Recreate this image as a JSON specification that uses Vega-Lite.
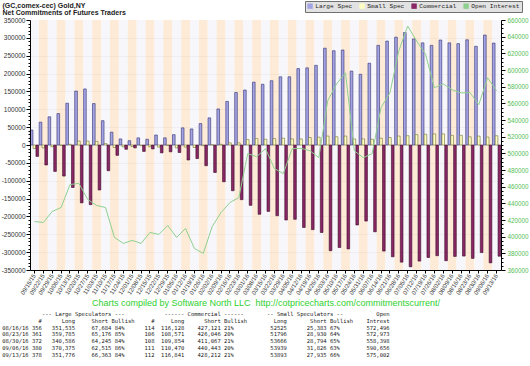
{
  "$schema": "https://vega.github.io/schema/vega-lite/v6.json",
  "width": 471,
  "height": 250,
  "autosize": {"type": "none"},
  "padding": {"left": 30, "top": 20, "right": 29, "bottom": 96},
  "background": "white",
  "config": {"view": {"stroke": null}},
  "title": {
    "text": [
      "\u200b\u00a0\u00a0\u00a0\u00a0\u00a0\u00a0\u00a0\u00a0\u00a0\u00a0\u00a0\u00a0---\u00a0Large\u00a0Speculators\u00a0---\u00a0\u00a0\u00a0\u00a0\u00a0\u00a0\u00a0\u00a0\u00a0\u00a0\u00a0\u00a0------\u00a0Commercial\u00a0------\u00a0\u00a0\u00a0\u00a0\u00a0\u00a0\u00a0--\u00a0Small\u00a0Speculators\u00a0--\u00a0\u00a0\u00a0\u00a0\u00a0\u00a0\u00a0\u00a0\u00a0\u00a0Open",
      "\u200b\u00a0\u00a0\u00a0\u00a0\u00a0\u00a0\u00a0\u00a0\u00a0\u00a0\u00a0#\u00a0\u00a0\u00a0\u00a0\u00a0\u00a0Long\u00a0\u00a0\u00a0\u00a0\u00a0Short\u00a0Bullish\u00a0\u00a0\u00a0\u00a0\u00a0#\u00a0\u00a0\u00a0\u00a0\u00a0Long\u00a0\u00a0\u00a0\u00a0\u00a0\u00a0Short\u00a0Bullish\u00a0\u00a0\u00a0\u00a0\u00a0\u00a0\u00a0\u00a0Long\u00a0\u00a0\u00a0\u00a0\u00a0\u00a0\u00a0Short\u00a0Bullish\u00a0\u00a0\u00a0\u00a0Intrest",
      "08/16/16\u00a0356\u00a0\u00a0\u00a0351,535\u00a0\u00a0\u00a0\u00a0\u00a067,684\u00a084%\u00a0\u00a0\u00a0\u00a0\u00a0\u00a0114\u00a0\u00a0116,128\u00a0\u00a0\u00a0\u00a0427,121\u00a021%\u00a0\u00a0\u00a0\u00a0\u00a0\u00a0\u00a0\u00a0\u00a0\u00a0\u00a052525\u00a0\u00a0\u00a0\u00a0\u00a0\u00a025,383\u00a067%\u00a0\u00a0\u00a0\u00a0\u00a0\u00a0\u00a0\u00a0572,496",
      "08/23/16\u00a0361\u00a0\u00a0\u00a0359,785\u00a0\u00a0\u00a0\u00a0\u00a065,176\u00a085%\u00a0\u00a0\u00a0\u00a0\u00a0\u00a0106\u00a0\u00a0108,571\u00a0\u00a0\u00a0\u00a0426,046\u00a020%\u00a0\u00a0\u00a0\u00a0\u00a0\u00a0\u00a0\u00a0\u00a0\u00a0\u00a051796\u00a0\u00a0\u00a0\u00a0\u00a0\u00a028,930\u00a064%\u00a0\u00a0\u00a0\u00a0\u00a0\u00a0\u00a0\u00a0572,973",
      "08/30/16\u00a0372\u00a0\u00a0\u00a0340,586\u00a0\u00a0\u00a0\u00a0\u00a064,245\u00a084%\u00a0\u00a0\u00a0\u00a0\u00a0\u00a0108\u00a0\u00a0109,854\u00a0\u00a0\u00a0\u00a0411,067\u00a021%\u00a0\u00a0\u00a0\u00a0\u00a0\u00a0\u00a0\u00a0\u00a0\u00a0\u00a053666\u00a0\u00a0\u00a0\u00a0\u00a0\u00a028,794\u00a065%\u00a0\u00a0\u00a0\u00a0\u00a0\u00a0\u00a0\u00a0558,398",
      "09/06/16\u00a0380\u00a0\u00a0\u00a0370,375\u00a0\u00a0\u00a0\u00a0\u00a062,515\u00a086%\u00a0\u00a0\u00a0\u00a0\u00a0\u00a0111\u00a0\u00a0110,470\u00a0\u00a0\u00a0\u00a0440,443\u00a020%\u00a0\u00a0\u00a0\u00a0\u00a0\u00a0\u00a0\u00a0\u00a0\u00a0\u00a053939\u00a0\u00a0\u00a0\u00a0\u00a0\u00a031,826\u00a063%\u00a0\u00a0\u00a0\u00a0\u00a0\u00a0\u00a0\u00a0590,656",
      "09/13/16\u00a0378\u00a0\u00a0\u00a0351,776\u00a0\u00a0\u00a0\u00a0\u00a066,363\u00a084%\u00a0\u00a0\u00a0\u00a0\u00a0\u00a0112\u00a0\u00a0116,841\u00a0\u00a0\u00a0\u00a0428,212\u00a021%\u00a0\u00a0\u00a0\u00a0\u00a0\u00a0\u00a0\u00a0\u00a0\u00a0\u00a053893\u00a0\u00a0\u00a0\u00a0\u00a0\u00a027,935\u00a066%\u00a0\u00a0\u00a0\u00a0\u00a0\u00a0\u00a0\u00a0575,002"
    ],
    "orient": "bottom",
    "anchor": "start",
    "frame": "bounds",
    "baseline": "top",
    "font": "DejaVu Sans Mono",
    "fontSize": 5.5,
    "fontWeight": "normal",
    "color": "#222222",
    "lineHeight": 6.8,
    "offset": 5,
    "dx": 1
  },
  "data": {
    "values": [
      {"date":"09/15/15","Large Spec":42000,"Small Spec":-10000,"Commercial":-32000,"Open Interest":418200},
      {"date":"09/22/15","Large Spec":64000,"Small Spec":-8000,"Commercial":-56000,"Open Interest":417000},
      {"date":"09/29/15","Large Spec":79000,"Small Spec":-5000,"Commercial":-74000,"Open Interest":430200},
      {"date":"10/06/15","Large Spec":88000,"Small Spec":-1000,"Commercial":-87000,"Open Interest":435000},
      {"date":"10/13/15","Large Spec":117000,"Small Spec":2000,"Commercial":-119000,"Open Interest":462500},
      {"date":"10/20/15","Large Spec":151000,"Small Spec":11000,"Commercial":-162000,"Open Interest":464000},
      {"date":"10/27/15","Large Spec":157000,"Small Spec":11000,"Commercial":-167000,"Open Interest":444600},
      {"date":"11/03/15","Large Spec":116000,"Small Spec":10000,"Commercial":-126000,"Open Interest":437400},
      {"date":"11/10/15","Large Spec":68000,"Small Spec":4000,"Commercial":-72000,"Open Interest":435000},
      {"date":"11/17/15","Large Spec":36000,"Small Spec":-7000,"Commercial":-29000,"Open Interest":399100},
      {"date":"11/24/15","Large Spec":17000,"Small Spec":-5000,"Commercial":-12000,"Open Interest":391900},
      {"date":"12/01/15","Large Spec":12000,"Small Spec":-4000,"Commercial":-8000,"Open Interest":395500},
      {"date":"12/08/15","Large Spec":20000,"Small Spec":-2000,"Commercial":-18000,"Open Interest":391900},
      {"date":"12/15/15","Large Spec":16000,"Small Spec":-5000,"Commercial":-11000,"Open Interest":405100},
      {"date":"12/22/15","Large Spec":28000,"Small Spec":-6000,"Commercial":-22000,"Open Interest":402700},
      {"date":"12/29/15","Large Spec":20000,"Small Spec":-1000,"Commercial":-19000,"Open Interest":413400},
      {"date":"01/05/16","Large Spec":29000,"Small Spec":-8000,"Commercial":-21000,"Open Interest":399100},
      {"date":"01/12/16","Large Spec":48000,"Small Spec":-6000,"Commercial":-42000,"Open Interest":409900},
      {"date":"01/19/16","Large Spec":45000,"Small Spec":-7000,"Commercial":-38000,"Open Interest":385900},
      {"date":"01/26/16","Large Spec":60000,"Small Spec":-2000,"Commercial":-58000,"Open Interest":379900},
      {"date":"02/02/16","Large Spec":76000,"Small Spec":1000,"Commercial":-77000,"Open Interest":412200},
      {"date":"02/09/16","Large Spec":101000,"Small Spec":2000,"Commercial":-103000,"Open Interest":429000},
      {"date":"02/16/16","Large Spec":122000,"Small Spec":6000,"Commercial":-128000,"Open Interest":441000},
      {"date":"02/23/16","Large Spec":147000,"Small Spec":6000,"Commercial":-153000,"Open Interest":447000},
      {"date":"03/01/16","Large Spec":154000,"Small Spec":15000,"Commercial":-169000,"Open Interest":499600},
      {"date":"03/08/16","Large Spec":176000,"Small Spec":18000,"Commercial":-194000,"Open Interest":496000},
      {"date":"03/15/16","Large Spec":170000,"Small Spec":16000,"Commercial":-186000,"Open Interest":505600},
      {"date":"03/22/16","Large Spec":180000,"Small Spec":18000,"Commercial":-198000,"Open Interest":481700},
      {"date":"03/29/16","Large Spec":191000,"Small Spec":19000,"Commercial":-210000,"Open Interest":475700},
      {"date":"04/05/16","Large Spec":191000,"Small Spec":17000,"Commercial":-208000,"Open Interest":505600},
      {"date":"04/12/16","Large Spec":214000,"Small Spec":17000,"Commercial":-231000,"Open Interest":506000},
      {"date":"04/19/16","Large Spec":216000,"Small Spec":21000,"Commercial":-237000,"Open Interest":503200},
      {"date":"04/26/16","Large Spec":223000,"Small Spec":22000,"Commercial":-245000,"Open Interest":494800},
      {"date":"05/03/16","Large Spec":271000,"Small Spec":25000,"Commercial":-296000,"Open Interest":563100},
      {"date":"05/10/16","Large Spec":264000,"Small Spec":23000,"Commercial":-287000,"Open Interest":583400},
      {"date":"05/17/16","Large Spec":266000,"Small Spec":25000,"Commercial":-291000,"Open Interest":596600},
      {"date":"05/24/16","Large Spec":207000,"Small Spec":17000,"Commercial":-224000,"Open Interest":503000},
      {"date":"05/31/16","Large Spec":198000,"Small Spec":17000,"Commercial":-213000,"Open Interest":494800},
      {"date":"06/07/16","Large Spec":229000,"Small Spec":16000,"Commercial":-243000,"Open Interest":499600},
      {"date":"06/14/16","Large Spec":279000,"Small Spec":19000,"Commercial":-297000,"Open Interest":554700},
      {"date":"06/21/16","Large Spec":291000,"Small Spec":21000,"Commercial":-313000,"Open Interest":572600},
      {"date":"06/28/16","Large Spec":302000,"Small Spec":25000,"Commercial":-328000,"Open Interest":622900},
      {"date":"07/05/16","Large Spec":315000,"Small Spec":26000,"Commercial":-341000,"Open Interest":652800},
      {"date":"07/12/16","Large Spec":297000,"Small Spec":29000,"Commercial":-325000,"Open Interest":634900},
      {"date":"07/19/16","Large Spec":286000,"Small Spec":30000,"Commercial":-315000,"Open Interest":619300},
      {"date":"07/26/16","Large Spec":279000,"Small Spec":31000,"Commercial":-310000,"Open Interest":578600},
      {"date":"08/02/16","Large Spec":294000,"Small Spec":31000,"Commercial":-324000,"Open Interest":583400},
      {"date":"08/09/16","Large Spec":286000,"Small Spec":27000,"Commercial":-312000,"Open Interest":576200},
      {"date":"08/16/16","Large Spec":283851,"Small Spec":27142,"Commercial":-310993,"Open Interest":572496},
      {"date":"08/23/16","Large Spec":294609,"Small Spec":22866,"Commercial":-317475,"Open Interest":572973},
      {"date":"08/30/16","Large Spec":276341,"Small Spec":24872,"Commercial":-301213,"Open Interest":558398},
      {"date":"09/06/16","Large Spec":307860,"Small Spec":22113,"Commercial":-329973,"Open Interest":590656},
      {"date":"09/13/16","Large Spec":285413,"Small Spec":25958,"Commercial":-311371,"Open Interest":575002}
    ]
  },
  "encoding": {
    "x": {
      "field": "date",
      "type": "ordinal",
      "sort": null,
      "scale": {"paddingInner": 0, "paddingOuter": 0},
      "axis": {
        "title": "Charts compiled by Software North LLC\u00a0 http://cotpricecharts.com/commitmentscurrent/",
        "titleColor": "#2fcf2f",
        "titleFont": "Liberation Sans",
        "titleFontSize": 9,
        "titleFontWeight": "normal",
        "titleY": 32,
        "titleBaseline": "middle",
        "labelAngle": -58,
        "labelAlign": "right",
        "labelBaseline": "middle",
        "labelFont": "Liberation Sans",
        "labelFontSize": 6,
        "labelColor": "#333333",
        "labelPadding": 1,
        "labelOverlap": false,
        "labelBound": false,
        "tickSize": 3,
        "tickColor": "#000000",
        "domainColor": "#000000",
        "grid": false,
        "zindex": 1
      }
    }
  },
  "layer": [
    {
      "transform": [{"window": [{"op": "row_number", "as": "idx"}]}],
      "mark": {"type": "bar", "opacity": 0.8},
      "encoding": {
        "y": {
          "datum": 350000,
          "type": "quantitative",
          "scale": {"domain": [-350000, 350000], "nice": false, "zero": false},
          "axis": {
            "orient": "left",
            "title": null,
            "grid": true,
            "gridColor": "#b8b8b8",
            "gridWidth": 0.6,
            "domain": false,
            "ticks": false,
            "labels": false,
            "values": [-300000, -250000, -200000, -150000, -100000, -50000, 0, 50000, 100000, 150000, 200000, 250000, 300000],
            "zindex": 0
          }
        },
        "y2": {"datum": -350000},
        "color": {"condition": {"test": "datum.idx % 2 === 0", "value": "#fce6ce"}, "value": "#f5f5fa"}
      }
    },
    {
      "transform": [{"fold": ["Large Spec", "Small Spec", "Commercial"], "as": ["series", "net"]}],
      "mark": {"type": "bar", "strokeWidth": 0.6},
      "encoding": {
        "xOffset": {
          "field": "series",
          "type": "nominal",
          "scale": {"domain": ["Large Spec", "Small Spec", "Commercial"], "paddingInner": 0.06, "paddingOuter": 0.1}
        },
        "y": {
          "field": "net",
          "type": "quantitative",
          "scale": {"domain": [-350000, 350000], "nice": false},
          "axis": {
            "orient": "left",
            "tickCount": 70,
            "grid": false,
            "title": ["(GC,comex-cec) Gold,NY", "Net Commitments of Futures Traders"],
            "titleAngle": 0,
            "titleAlign": "left",
            "titleBaseline": "top",
            "titleX": -28,
            "titleY": -19,
            "titleFont": "Liberation Sans",
            "titleFontSize": 7,
            "titleFontWeight": "bold",
            "titleLineHeight": 7,
            "titleColor": "#222222",
            "labelExpr": "datum.value % 50000 === 0 ? (datum.value < 0 ? '-' + abs(datum.value) : '' + datum.value) : ''",
            "tickSize": {"condition": {"test": "datum.value % 50000 === 0", "value": 4}, "value": 2},
            "labelFont": "Liberation Sans",
            "labelFontSize": 6.5,
            "labelColor": "#333333",
            "labelPadding": 1,
            "labelOverlap": false,
            "labelBound": false,
            "labelFlush": false,
            "domainColor": "#000000",
            "tickColor": "#000000",
            "zindex": 1
          }
        },
        "color": {
          "field": "series",
          "type": "nominal",
          "scale": {
            "domain": ["Large Spec", "Small Spec", "Commercial", "Open Interest"],
            "range": ["#a4a4e4", "#ffffc4", "#8a2765", "#8fd08f"]
          },
          "legend": {
            "orient": "none",
            "legendX": 275,
            "legendY": -19,
            "direction": "horizontal",
            "columns": 4,
            "title": null,
            "fillColor": "#e2e2e2",
            "strokeColor": "#707070",
            "padding": 2,
            "columnPadding": 5,
            "rowPadding": 0,
            "symbolSize": 22,
            "symbolStrokeWidth": 0.7,
            "labelFont": "Liberation Mono",
            "labelFontSize": 6.2,
            "labelColor": "#222222",
            "labelOffset": 2,
            "encode": {
              "symbols": {
                "update": {
                  "shape": {"signal": "datum.value === 'Open Interest' ? 'stroke' : 'square'"},
                  "fill": {"scale": "color", "field": "value"},
                  "stroke": {"signal": "datum.value === 'Open Interest' ? '#7cc47c' : (datum.value === 'Large Spec' ? '#35357a' : (datum.value === 'Small Spec' ? '#7a7a35' : '#3a0a28'))"},
                  "strokeWidth": {"signal": "datum.value === 'Open Interest' ? 1.5 : 0.7"}
                }
              }
            }
          }
        },
        "stroke": {
          "condition": [
            {"test": "datum.series === 'Large Spec'", "value": "#2f2f70"},
            {"test": "datum.series === 'Small Spec'", "value": "#6e6e30"}
          ],
          "value": "#3a0a28"
        }
      }
    },
    {
      "mark": {"type": "line", "strokeWidth": 1},
      "encoding": {
        "y": {
          "field": "Open Interest",
          "type": "quantitative",
          "scale": {"domain": [360000, 660000], "nice": false, "zero": false},
          "axis": {
            "orient": "right",
            "title": null,
            "tickCount": 60,
            "format": "d",
            "labelExpr": "datum.value % 20000 === 0 ? datum.label : ''",
            "tickSize": {"condition": {"test": "datum.value % 20000 === 0", "value": 4}, "value": 2},
            "labelColor": "#55c055",
            "labelFont": "Liberation Sans",
            "labelFontSize": 6.3,
            "labelPadding": 2,
            "labelOverlap": false,
            "labelBound": false,
            "labelFlush": false,
            "domainColor": "#000000",
            "tickColor": "#000000",
            "grid": false,
            "zindex": 1
          }
        },
        "color": {"datum": "Open Interest"}
      }
    }
  ],
  "resolve": {"scale": {"y": "independent"}, "axis": {"y": "independent"}}
}
